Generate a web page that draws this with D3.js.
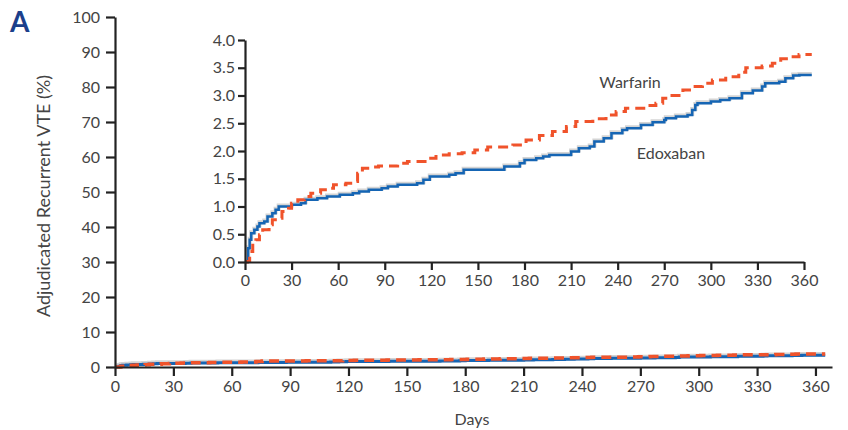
<!DOCTYPE html>
<html>
<head>
<meta charset="utf-8">
<script src="https://cdn.jsdelivr.net/npm/d3@7"></script>
<style>
  body { margin: 0; background: #fff; }
  text { font-family: Lato, "Open Sans", sans-serif; fill: #444; }
</style>
</head>
<body>
<script>
// data: [day, cumulative %]
var edoxaban = [
  [0,0],[1,0],[2,0.25],[3,0.4],[4,0.52],[6,0.58],[8,0.64],[9.3,0.7],[12.4,0.73],[14.5,0.82],
  [17.6,0.88],[19.7,0.94],[21.7,1.0],[30,1.03],[36,1.06],[39,1.12],[46.6,1.15],[52.8,1.18],
  [61,1.21],[69.4,1.24],[73.5,1.27],[79.7,1.3],[88,1.33],[92,1.36],[98.3,1.39],[110.8,1.42],
  [114.9,1.48],[119,1.54],[131.5,1.57],[135.6,1.6],[140.8,1.66],[167,1.72],[177,1.78],
  [180,1.84],[187.5,1.87],[192,1.9],[196,1.93],[210,1.99],[215,2.05],[222,2.08],[225,2.17],
  [231,2.23],[236,2.32],[243,2.38],[246,2.41],[255,2.47],[262.5,2.52],[270,2.56],[271,2.59],
  [277.5,2.62],[285,2.65],[288,2.74],[290,2.83],[291.4,2.86],[300,2.89],[306,2.92],[312,2.95],
  [320,3.04],[327,3.09],[333,3.16],[335,3.22],[344,3.25],[348,3.31],[353,3.36],[357,3.37],[365,3.37]
];
var warfarin = [
  [0,0],[1.5,0.01],[3,0.19],[5,0.34],[7,0.4],[9.3,0.49],[11.4,0.58],[15.5,0.67],[17.6,0.76],
  [21.7,0.79],[23.8,0.91],[28,0.97],[30,1.06],[34,1.12],[38.3,1.18],[42.4,1.24],[48.7,1.3],
  [54.9,1.33],[57,1.39],[65,1.42],[69.4,1.45],[72.5,1.6],[75.6,1.69],[81.8,1.71],[86,1.73],
  [98.3,1.78],[104.6,1.81],[117,1.87],[123,1.93],[131.5,1.95],[139.8,1.97],[148,2.02],
  [156.3,2.07],[172.5,2.11],[181,2.2],[189.6,2.28],[198,2.35],[207,2.44],[213,2.53],[224,2.58],
  [232.5,2.65],[239,2.71],[245,2.77],[258,2.82],[264.6,2.86],[269,2.95],[275,3.0],[282,3.1],
  [288,3.16],[294.6,3.22],[301,3.28],[309.6,3.34],[318,3.42],[322.5,3.5],[333,3.53],[339.6,3.58],
  [345,3.66],[350,3.7],[356.8,3.74],[365,3.74]
];
var dayTicks = d3.range(0, 361, 30);
var mainYTicks = d3.range(0, 101, 10);
var insetYTicks = [0, 0.5, 1, 1.5, 2, 2.5, 3, 3.5, 4];

var blue = '#1565b4', orange = '#f0532b';

var svg = d3.select('body').append('svg')
  .attr('width', 848).attr('height', 430);

function styleAxis(g) {
  g.select('.domain').attr('stroke', '#222').attr('stroke-width', 2.2);
  g.selectAll('.tick line').attr('stroke', '#222').attr('stroke-width', 2.2);
  g.selectAll('.tick text')
    .attr('font-family', 'Lato, "Open Sans", sans-serif')
    .attr('font-size', 16).attr('fill', '#444');
}

function drawLines(g, x, y, w) {
  var line = d3.line().x(function(d) { return x(d[0]); }).y(function(d) { return y(d[1]); })
    .curve(d3.curveStepAfter);
  // faint grey shadow under the edoxaban line
  g.append('path').attr('d', line(edoxaban)).attr('fill', 'none')
    .attr('stroke', '#aaa').attr('stroke-opacity', 0.5).attr('stroke-width', w + 1.5)
    .attr('transform', 'translate(0,-1)');
  g.append('path').attr('d', line(edoxaban)).attr('fill', 'none')
    .attr('stroke', blue).attr('stroke-width', w);
  g.append('path').attr('d', line(warfarin)).attr('fill', 'none')
    .attr('stroke', orange).attr('stroke-width', w + 0.5)
    .attr('stroke-dasharray', '10,6');
}

// main chart
var x = d3.scaleLinear().domain([0, 368.5]).range([115, 832]);
var y = d3.scaleLinear().domain([0, 100]).range([367, 17]);

drawLines(svg.append('g'), x, y, 3);

svg.append('g').attr('transform', 'translate(0,367)')
  .call(d3.axisBottom(x).tickValues(dayTicks).tickSize(9).tickSizeOuter(0).tickPadding(5))
  .call(styleAxis);
svg.append('g').attr('transform', 'translate(115,0)')
  .call(d3.axisLeft(y).tickValues(mainYTicks).tickSize(9).tickSizeOuter(0).tickPadding(6))
  .call(styleAxis);

svg.append('text').attr('x', 472).attr('y', 425).attr('text-anchor', 'middle')
  .attr('font-size', 16).text('Days');
svg.append('text').attr('transform', 'translate(50,196) rotate(-90)')
  .attr('text-anchor', 'middle').attr('font-size', 18)
  .text('Adjudicated Recurrent VTE (%)');
svg.append('text').attr('x', 10).attr('y', 32)
  .attr('font-family', '"Liberation Sans", Arial, sans-serif').attr('font-weight', 'bold')
  .attr('font-size', 28).style('fill', '#1b3f8b').text('A');

// inset
var xi = d3.scaleLinear().domain([0, 360]).range([245, 804]);
var yi = d3.scaleLinear().domain([0, 4]).range([262, 40]);

drawLines(svg.append('g'), xi, yi, 2.5);

svg.append('g').attr('transform', 'translate(0,262)')
  .call(d3.axisBottom(xi).tickValues(dayTicks).tickSize(8).tickSizeOuter(0).tickPadding(5))
  .call(styleAxis);
svg.append('g').attr('transform', 'translate(245,0)')
  .call(d3.axisLeft(yi).tickValues(insetYTicks).tickFormat(d3.format('.1f'))
    .tickSize(7).tickSizeOuter(0).tickPadding(3))
  .call(styleAxis);

svg.append('text').attr('x', 630).attr('y', 88).attr('text-anchor', 'middle')
  .attr('font-size', 16).text('Warfarin');
svg.append('text').attr('x', 671).attr('y', 159).attr('text-anchor', 'middle')
  .attr('font-size', 16).text('Edoxaban');
</script>
</body>
</html>
